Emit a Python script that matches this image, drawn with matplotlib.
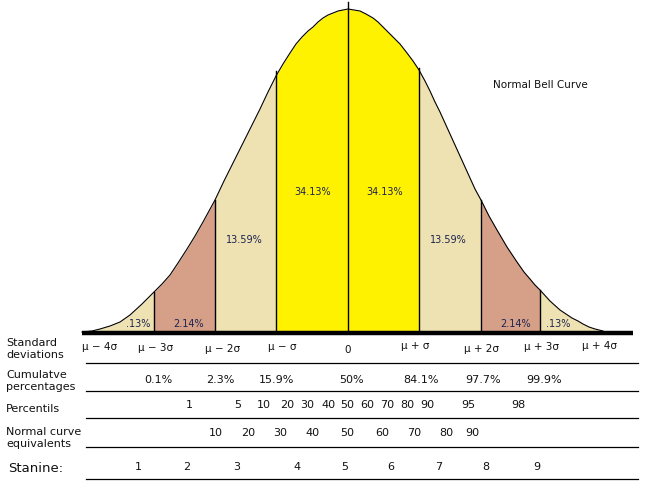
import numpy as np
import matplotlib
matplotlib.use("Agg")
import matplotlib.pyplot as plt

# curve outline (x position, height above the baseline)
curve_x = [82, 92, 100, 110, 120, 130, 142, 154, 162, 170, 178, 187, 195, 203, 209, 215,
           224, 233, 240, 247, 254, 260, 268, 276, 283, 290, 296, 302, 308, 313, 318,
           323, 328, 333, 338, 343, 348, 354, 360, 366, 373, 378, 383, 388, 393, 400,
           407, 413, 419, 425, 430, 435, 440, 445, 450, 455, 460, 465, 470, 475, 481,
           489, 497, 507, 517, 524, 530, 535, 540, 550, 560, 566, 572, 578, 583, 589,
           595, 603]
curve_h = [1, 2, 4, 7, 11, 18, 29, 41, 49, 58, 70, 84, 97, 111, 122, 133,
           152, 170, 184, 198, 212, 224, 241, 257, 269, 280, 289, 296, 302, 306, 311,
           315, 318, 320, 322, 323, 324, 323, 322, 319, 315, 311, 306, 301, 296, 289,
           280, 272, 263, 252, 242, 231, 221, 210, 199, 188, 177, 166, 155, 144, 133,
           117, 103, 86, 71, 61, 54, 48, 43, 32, 23, 19, 15, 12, 9, 6,
           4, 2]
baseline_y = 333

# dividers (sigma positions) and how high each line is drawn
divider_x = [154, 215, 276, 348, 419, 481, 540]
divider_top = [41, 133, 262, 331, 265, 133, 43]

# bands between dividers
band_edges = [82, 154, 215, 276, 419, 481, 540, 603]
band_colors = ["#EEE1B2", "#D5A087", "#EEE1B2", "#FFF200", "#EEE1B2", "#D5A087", "#EEE1B2"]

area_labels = [".13%", "2.14%", "13.59%", "34.13%", "34.13%", "13.59%", "2.14%", ".13%"]
area_label_x = [138, 189, 244, 313, 385, 448, 516, 558]
area_label_y = [324, 324, 240, 192, 192, 240, 324, 324]

row_names = ["Standard\ndeviations", "Cumulatve\npercentages", "Percentils",
             "Normal curve\nequivalents"]
row_name_y = [349, 381, 409, 438]
row_lines = [363, 391, 418, 447, 479]

sd_labels = ["μ − 4σ", "μ − 3σ", "μ − 2σ", "μ − σ", "0", "μ + σ", "μ + 2σ", "μ + 3σ", "μ + 4σ"]
sd_x = [100, 156, 223, 282, 348, 415, 481, 541, 600]
sd_y = [347, 348, 349, 347, 350, 346, 349, 347, 346]

cum_labels = ["0.1%", "2.3%", "15.9%", "50%", "84.1%", "97.7%", "99.9%"]
cum_x = [158, 220, 277, 351, 421, 483, 544]

pct_labels = ["1", "5", "10", "20", "30", "40", "50", "60", "70", "80", "90", "95", "98"]
pct_x = [189, 238, 264, 287, 307, 328, 347, 367, 387, 407, 427, 468, 518]

nce_labels = ["10", "20", "30", "40", "50", "60", "70", "80", "90"]
nce_x = [216, 248, 280, 312, 347, 382, 414, 446, 472]

stanine_labels = ["1", "2", "3", "4", "5", "6", "7", "8", "9"]
stanine_x = [138, 187, 237, 297, 345, 391, 439, 486, 537]

fig = plt.figure(figsize=(6.45, 4.94), dpi=100)
ax = fig.add_axes([0, 0, 1, 1])
ax.set_xlim(0, 645)
ax.set_ylim(494, 0)
ax.axis("off")

cx = np.array(curve_x)
cy = baseline_y - np.array(curve_h)

# coloured bands under the curve
for i, col in enumerate(band_colors):
    lo, hi = band_edges[i], band_edges[i + 1]
    mask = (cx >= lo) & (cx <= hi)
    ax.fill_between(cx, cy, baseline_y, where=mask, color=col, lw=0)

ax.plot(cx, cy, color="black", lw=0.8)
for x, top in zip(divider_x, divider_top):
    ax.plot([x, x], [baseline_y, baseline_y - top], color="black", lw=1)

ax.plot([82, 633], [baseline_y, baseline_y], color="black", lw=3.2, solid_capstyle="butt")

lab_col = "#1c2450"
for t, x, y in zip(area_labels, area_label_x, area_label_y):
    ax.text(x, y, t, ha="center", va="center", fontsize=7, color=lab_col)

ax.text(540, 85, "Normal Bell Curve", ha="center", va="center", fontsize=7.5, color="#111")

# table under the curve
for t, y in zip(row_names, row_name_y):
    ax.text(6, y, t, ha="left", va="center", fontsize=8, color="#111", linespacing=1.25)
ax.text(8, 468, "Stanine:", ha="left", va="center", fontsize=9.5, color="#111")

for y in row_lines:
    ax.plot([86, 638], [y, y], color="black", lw=0.9)

for t, x, y in zip(sd_labels, sd_x, sd_y):
    ax.text(x, y, t, ha="center", va="center", fontsize=7.5, color="#111")
for t, x in zip(cum_labels, cum_x):
    ax.text(x, 380, t, ha="center", va="center", fontsize=8, color="#111")
for t, x in zip(pct_labels, pct_x):
    ax.text(x, 405, t, ha="center", va="center", fontsize=8, color="#111")
for t, x in zip(nce_labels, nce_x):
    ax.text(x, 433, t, ha="center", va="center", fontsize=8, color="#111")
for t, x in zip(stanine_labels, stanine_x):
    ax.text(x, 467, t, ha="center", va="center", fontsize=8, color="#111")

fig.savefig("out.png", dpi=100, facecolor="white")
